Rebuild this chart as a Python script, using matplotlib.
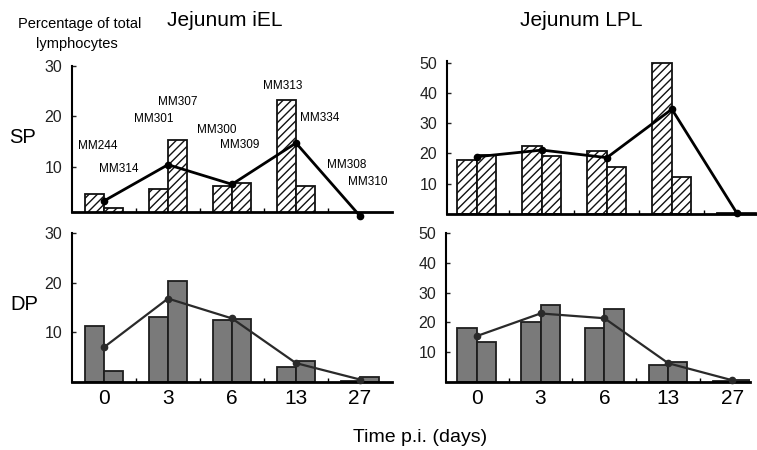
import numpy as np
import matplotlib
matplotlib.use("Agg")
import matplotlib.pyplot as plt

plt.rcParams['font.family'] = ['Liberation Sans', 'DejaVu Sans']
plt.rcParams['hatch.linewidth'] = 1.0

# ---------------- data ----------------
days = ["0", "3", "6", "13", "27"]

# SP, Jejunum iEL (two animals per time point + mean line)
sp_iel_a = [4.5, 5.5, 6.1, 23.3, 0.3]
sp_iel_b = [1.8, 15.4, 6.8, 6.1, 0.3]
sp_iel_mean = [3.2, 10.4, 6.5, 14.7, 0.2]

# SP, Jejunum LPL
sp_lpl_a = [17.8, 22.4, 20.8, 50.0, 0.3]
sp_lpl_b = [19.5, 19.2, 15.5, 12.3, 0.3]
sp_lpl_mean = [18.9, 21.1, 18.6, 34.6, 0.3]

# DP, Jejunum iEL
dp_iel_a = [11.3, 13.1, 12.5, 3.1, 0.2]
dp_iel_b = [2.3, 20.3, 12.6, 4.3, 1.0]
dp_iel_mean = [7.0, 16.8, 12.8, 3.8, 0.5]

# DP, Jejunum LPL
dp_lpl_a = [18.2, 20.2, 18.2, 5.7, 0.4]
dp_lpl_b = [13.3, 25.7, 24.6, 6.6, 0.6]
dp_lpl_mean = [15.4, 23.0, 21.4, 6.3, 0.6]

animal_labels = ["MM244", "MM314", "MM301", "MM307", "MM300",
                 "MM309", "MM313", "MM334", "MM308", "MM310"]

titles = ["Jejunum iEL", "Jejunum LPL"]
row_labels = ["SP", "DP"]
ytick_iel = [10, 20, 30]
ytick_lpl = [10, 20, 30, 40, 50]

# ---------------- layout ----------------
W, H = 757, 450
fig = plt.figure(figsize=(W / 100, H / 100), dpi=100)


def ax_px(x0, x1, ybot, ytop):
    return fig.add_axes([x0 / W, 1 - ybot / H, (x1 - x0) / W, (ybot - ytop) / H])


ax_sp_iel = ax_px(72, 392, 212, 66)
ax_sp_lpl = ax_px(447, 757, 214, 61.3)
ax_dp_iel = ax_px(72, 392, 382, 233)
ax_dp_lpl = ax_px(446, 750, 382, 233)

x = np.arange(len(days))
bw = 0.3


def style(ax, xlim, ylim, yticks, show_xlabels):
    ax.set_xlim(*xlim)
    ax.set_ylim(*ylim)
    for s in ['top', 'right']:
        ax.spines[s].set_visible(False)
    ax.spines['left'].set_linewidth(1.5)
    ax.spines['bottom'].set_linewidth(2.0)
    ax.set_yticks(yticks)
    ax.tick_params(axis='y', direction='in', length=3, width=1, pad=7,
                   labelsize=11.5, colors='#222222')
    ax.set_xticks(x)
    ax.set_xticks(x[:-1] + 0.5, minor=True)
    ax.tick_params(axis='x', which='major', length=0, pad=5, labelsize=15)
    ax.tick_params(axis='x', which='minor', direction='in', length=3, width=1)
    if show_xlabels:
        ax.set_xticklabels(days)
    else:
        ax.set_xticklabels([])
    ax.patch.set_alpha(0)


def draw(ax, a, b, m, hatched):
    if hatched:
        kw = dict(facecolor='white', edgecolor='#111111', hatch='////', linewidth=1.3)
        lc, lw = '#000000', 2.0
    else:
        kw = dict(facecolor='#7a7a7a', edgecolor='#1e1e1e', linewidth=1.3)
        lc, lw = '#2a2a2a', 1.6
    ax.bar(x - bw / 2, a, width=bw, **kw)
    ax.bar(x + bw / 2, b, width=bw, **kw)
    ax.plot(x, m, color=lc, lw=lw, marker='o', ms=4.5, clip_on=False, zorder=5)


draw(ax_sp_iel, sp_iel_a, sp_iel_b, sp_iel_mean, True)
draw(ax_sp_lpl, sp_lpl_a, sp_lpl_b, sp_lpl_mean, True)
draw(ax_dp_iel, dp_iel_a, dp_iel_b, dp_iel_mean, False)
draw(ax_dp_lpl, dp_lpl_a, dp_lpl_b, dp_lpl_mean, False)

style(ax_sp_iel, (-0.5, 4.5), (1.0, 30), ytick_iel, False)
style(ax_sp_lpl, (-0.46, 4.31), (0, 50.4), ytick_lpl, False)
style(ax_dp_iel, (-0.5, 4.5), (0, 30), ytick_iel, True)
style(ax_dp_lpl, (-0.48, 4.28), (0, 50), ytick_lpl, True)


def ftext(px, py, s, **kw):
    fig.text(px / W, 1 - py / H, s, **kw)


# titles and labels
ftext(225, 21, titles[0], ha='center', va='center', fontsize=15)
ftext(581, 21, titles[1], ha='center', va='center', fontsize=15)
ftext(80, 24, "Percentage of total", ha='center', va='center', fontsize=10.5)
ftext(77, 44, "lymphocytes", ha='center', va='center', fontsize=10.5)
ftext(23, 137, row_labels[0], ha='center', va='center', fontsize=14.5)
ftext(24, 304, row_labels[1], ha='center', va='center', fontsize=14.5)
ftext(420, 438, "Time p.i. (days)", ha='center', va='center', fontsize=14)

# animal id annotations (pixel positions)
label_pos = [(98, 146), (119, 169), (154, 119), (178, 102), (217, 130),
             (240, 145), (283, 86), (320, 118), (347, 165), (368, 182)]
for lab, (px, py) in zip(animal_labels, label_pos):
    ftext(px, py, lab, ha='center', va='center', fontsize=8.5)

fig.savefig("out.png", dpi=100)
